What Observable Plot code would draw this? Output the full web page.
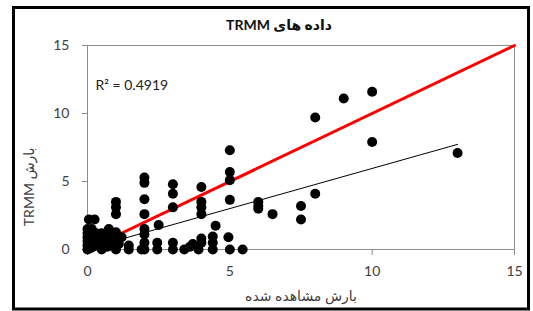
<!DOCTYPE html>
<html>
<head>
<meta charset="utf-8">
<script src="https://cdn.jsdelivr.net/npm/d3@7"></script>
<script src="https://cdn.jsdelivr.net/npm/@observablehq/plot@0.6"></script>
<style>
  body { margin: 0; background: #fff; }
  #chart svg { display: block; }
  .rtl text { direction: rtl; unicode-bidi: embed; }
</style>
</head>
<body>
<div id="chart"></div>
<script>
const title = "داده های TRMM";
const xLabel = "بارش مشاهده شده";
const yLabel = "بارش TRMM";
const r2Label = "R² = 0.4919";
const xTicks = [0, 5, 10, 15];
const yTicks = [0, 5, 10, 15];

// observed (x) vs TRMM (y)
const obs = [
  0, 0, 0, 0, 0, 0, 0.1, 0.2, 0.2, 0.3, 0.3, 0.4, 0.5, 0.5, 0.6, 0.6, 0.7, 0.75, 0.8, 0.9, 1, 1, 1.2, 0.15, 0.05, 0.25,
  0.1, 0.4, 0.7, 0.9, 1.1, 0.35, 0.55, 0.8,
  1, 1, 1, 1, 1, 1.45, 1.45, 1.9,
  2, 2, 2, 2, 2, 2, 2, 2, 2.5, 2.45, 2.45,
  3, 3, 3, 3, 3, 3.4, 3.6, 3.7,
  4, 4, 4, 4, 4, 4, 3.9, 4.4, 4.5, 4.4, 4.4, 4.95, 5, 5.45,
  5, 5, 5, 5,
  6, 6, 6, 6.5, 7.5, 7.5, 8, 8, 9, 10, 10, 13
];
const trmm = [
  0, 0.3, 0.6, 0.9, 1.2, 1.5, 0.5, 0.2, 1.0, 0.7, 1.2, 0.3, 0, 1.2, 0.6, 1.0, 0.2, 1.5, 0.9, 0.4, 0, 1.27, 0.9, 1.5, 2.2, 2.2,
  0.1, 0.9, 1.2, 0.7, 0.4, 0.45, 0.3, 0.5,
  3.5, 3.1, 2.6, 0.5, 1.0, 0.3, 0, 0,
  5.3, 4.9, 3.7, 2.6, 1.5, 1.1, 0.5, 0, 1.8, 0.5, 0,
  4.8, 4.1, 3.1, 0.5, 0, 0, 0.2, 0.4,
  4.6, 3.5, 3.1, 2.6, 0.8, 0.5, 0, 0, 1.75, 0.95, 0.5, 0.9, 0, 0,
  7.3, 5.7, 5.1, 3.65,
  3.5, 3.2, 3.0, 2.6, 3.2, 2.2, 4.1, 9.7, 11.1, 11.6, 7.9, 7.1
];
// 1:1 reference line and linear trend line endpoints
const refX = [0, 15];
const refY = [0, 15];
const trendX = [0, 13];
const trendY = [0.06, 7.73];

const points = obs.map((x, i) => ({x, y: trmm[i]}));
const ref = refX.map((x, i) => ({x, y: refY[i]}));
const trend = trendX.map((x, i) => ({x, y: trendY[i]}));

const font = "Lato, 'DejaVu Sans', sans-serif";

const chart = Plot.plot({
  width: 533,
  height: 311,
  marginLeft: 87,
  marginRight: 19,
  marginTop: 45,
  marginBottom: 62,
  style: {fontFamily: font, fontSize: "14px", background: "#fff", color: "#404040"},
  x: {domain: [0, 15], ticks: xTicks},
  y: {domain: [0, 15], ticks: yTicks},
  marks: [
    Plot.frame({stroke: "#8c8c8c", strokeWidth: 1}),
    Plot.axisX({ticks: xTicks, tickSize: 6, tickPadding: 11, label: null, stroke: "#8c8c8c", fill: "#404040", fontSize: 14}),
    Plot.axisY({ticks: yTicks, tickSize: 5, tickPadding: 13, label: null, stroke: "#8c8c8c", fill: "#404040", fontSize: 14}),
    Plot.line(trend, {x: "x", y: "y", stroke: "black", strokeWidth: 1}),
    Plot.line(ref, {x: "x", y: "y", stroke: "#ff0000", strokeWidth: 3}),
    Plot.dot(points, {x: "x", y: "y", r: 5, fill: "black", stroke: "none"}),
    Plot.text([r2Label], {frameAnchor: "top-left", dx: 8, dy: 40, lineAnchor: "middle", textAnchor: "start", fontSize: 14, fill: "#222"}),
    Plot.text([title], {className: "rtl", frameAnchor: "top", dx: -22, dy: -20, lineAnchor: "middle", fontWeight: "bold", fontSize: 14, fill: "#111"}),
    Plot.text([xLabel], {className: "rtl", frameAnchor: "bottom", dy: 47, lineAnchor: "middle", fontSize: 14, fill: "#404040"}),
    Plot.text([yLabel], {className: "rtl", frameAnchor: "left", dx: -58, rotate: -90, lineAnchor: "middle", fontSize: 14, fill: "#404040"})
  ]
});

d3.select(chart).append("rect")
  .attr("x", 13.5).attr("y", 7.5)
  .attr("width", 515).attr("height", 301.5)
  .attr("fill", "none").attr("stroke", "black").attr("stroke-width", 3);

document.getElementById("chart").appendChild(chart);
</script>
</body>
</html>
